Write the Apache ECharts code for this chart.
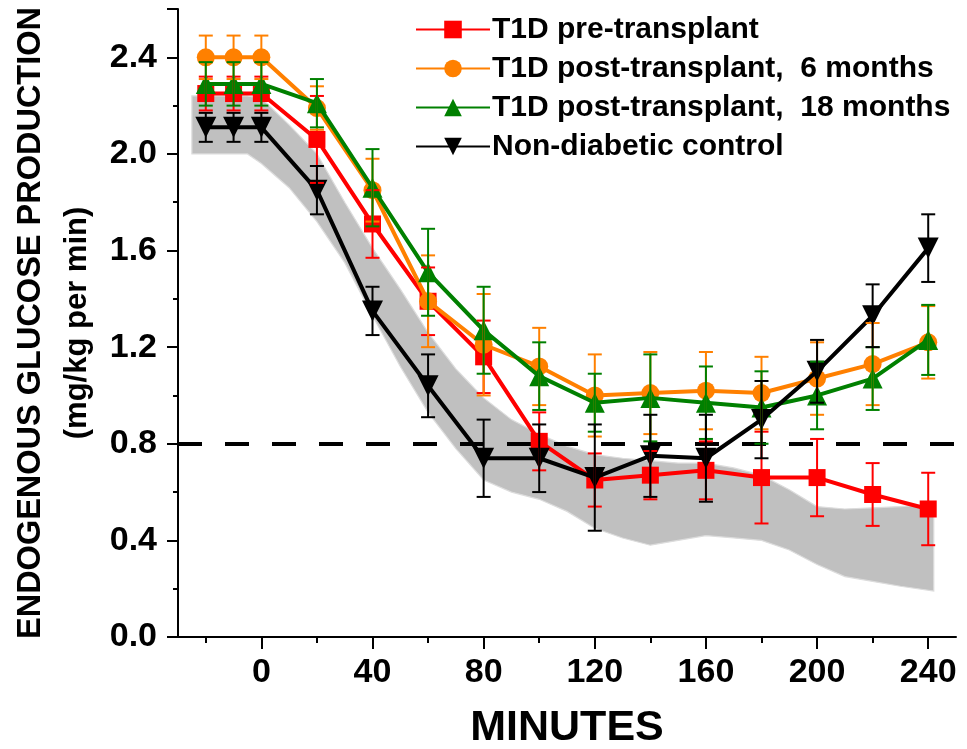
<!DOCTYPE html>
<html>
<head>
<meta charset="utf-8">
<title>Endogenous glucose production</title>
<script src="https://cdn.jsdelivr.net/npm/echarts@6/dist/echarts.min.js"></script>
<style>
  html, body { margin: 0; padding: 0; background: #ffffff; }
  #chart { width: 967px; height: 749px; }
</style>
</head>
<body>
<div id="chart"></div>
<script>
// Sampling times (minutes)
const minutes = [-20, -10, 0, 20, 40, 60, 80, 100, 120, 140, 160, 180, 200, 220, 240];

// Group means (mg/kg per min) and error-bar half widths
const preMean   = [2.25, 2.25, 2.25, 2.06, 1.71, 1.39, 1.16, 0.81, 0.65, 0.67, 0.69, 0.66, 0.66, 0.59, 0.53];
const preErr    = [0.07, 0.07, 0.07, 0.18, 0.14, 0.14, 0.15, 0.12, 0.11, 0.10, 0.12, 0.19, 0.16, 0.13, 0.15];
const post6Mean = [2.40, 2.40, 2.40, 2.19, 1.85, 1.39, 1.21, 1.12, 1.00, 1.01, 1.02, 1.01, 1.07, 1.13, 1.22];
const post6Err  = [0.09, 0.09, 0.09, 0.09, 0.13, 0.19, 0.21, 0.16, 0.17, 0.17, 0.16, 0.15, 0.15, 0.17, 0.15];
const post18Mean= [2.29, 2.29, 2.29, 2.21, 1.86, 1.51, 1.27, 1.08, 0.97, 0.99, 0.97, 0.95, 1.00, 1.07, 1.23];
const post18Err = [0.09, 0.09, 0.09, 0.10, 0.16, 0.18, 0.18, 0.14, 0.12, 0.18, 0.15, 0.15, 0.14, 0.13, 0.145];
const ctrlMean  = [2.11, 2.11, 2.11, 1.85, 1.35, 1.04, 0.74, 0.74, 0.66, 0.75, 0.74, 0.90, 1.10, 1.33, 1.61];
const ctrlErr   = [0.06, 0.06, 0.06, 0.10, 0.10, 0.13, 0.16, 0.14, 0.22, 0.17, 0.18, 0.16, 0.13, 0.13, 0.14];

// Reference range band for non-diabetic subjects
const bandX     = [-25, -5, 0, 10, 20, 30, 40, 50, 60, 70, 80, 90, 100, 110, 120, 130, 140, 150, 160, 170, 180, 190, 200, 210, 220, 230, 242];
const bandUpper = [2.24, 2.24, 2.23, 2.12, 2.00, 1.80, 1.61, 1.44, 1.26, 1.11, 0.99, 0.90, 0.84, 0.79, 0.755, 0.74, 0.73, 0.72, 0.72, 0.70, 0.67, 0.61, 0.54, 0.53, 0.535, 0.54, 0.55];
const bandLower = [2.00, 2.00, 1.96, 1.86, 1.72, 1.55, 1.33, 1.12, 0.93, 0.78, 0.65, 0.60, 0.57, 0.52, 0.45, 0.41, 0.38, 0.40, 0.42, 0.41, 0.40, 0.36, 0.30, 0.25, 0.23, 0.21, 0.19];

// Threshold line
const threshold = 0.8;

// Axis ticks
const xMajorTicks = [0, 40, 80, 120, 160, 200, 240];
const xMinorTicks = [-20, 20, 60, 100, 140, 180, 220];

const groups = [
  { name: 'T1D pre-transplant',             color: '#ff0000', symbol: 'rect',     size: 17, rotate: 0,   mean: preMean,    err: preErr },
  { name: 'T1D post-transplant,  6 months',  color: '#ff8000', symbol: 'circle',   size: 18, rotate: 0,   mean: post6Mean,  err: post6Err },
  { name: 'T1D post-transplant,  18 months', color: '#008000', symbol: 'triangle', size: 20, rotate: 0,   mean: post18Mean, err: post18Err },
  { name: 'Non-diabetic control',            color: '#000000', symbol: 'triangle', size: 21, rotate: 180, mean: ctrlMean,   err: ctrlErr }
];

const font = "'Liberation Sans', Arial, sans-serif";

const chart = echarts.init(document.getElementById('chart'), null, { renderer: 'canvas' });

const series = [];

// Grey band drawn as one polygon through the axis scales
series.push({
  type: 'custom',
  name: 'band',
  silent: true,
  z: 1,
  data: [[bandX[0], bandUpper[0]]],
  encode: { x: 0, y: 1 },
  renderItem: function (params, api) {
    const pts = [];
    for (let i = 0; i < bandX.length; i++) pts.push(api.coord([bandX[i], bandUpper[i]]));
    for (let i = bandX.length - 1; i >= 0; i--) pts.push(api.coord([bandX[i], bandLower[i]]));
    return {
      type: 'polygon',
      shape: { points: pts },
      style: { fill: '#c0c0c0', stroke: '#dcdcdc', lineWidth: 1.2 }
    };
  }
});

// Mean curves
groups.forEach(function (g, k) {
  series.push({
    type: 'line',
    name: g.name,
    z: 3 + k,
    data: minutes.map(function (m, i) { return [m, g.mean[i]]; }),
    symbol: g.symbol,
    symbolSize: g.size,
    symbolRotate: g.rotate,
    showAllSymbol: true,
    lineStyle: { color: g.color, width: 4 },
    itemStyle: { color: g.color },
    emphasis: { disabled: true },
    markLine: k === 0 ? {
      silent: true,
      symbol: ['none', 'none'],
      label: { show: false },
      z: 2,
      lineStyle: { color: '#000000', width: 4, type: [24, 23] },
      data: [{ yAxis: threshold }]
    } : undefined
  });
});

// Error bars on top of the markers
groups.forEach(function (g, k) {
  series.push({
    type: 'custom',
    name: g.name + ' SEM',
    silent: true,
    z: 10 + k,
    data: minutes.map(function (m, i) { return [m, g.mean[i], g.err[i]]; }),
    encode: { x: 0, y: 1 },
    renderItem: function (params, api) {
      const x = api.value(0), y = api.value(1), e = api.value(2);
      const top = api.coord([x, y + e]);
      const bot = api.coord([x, y - e]);
      const hw = 7;
      const st = { stroke: g.color, lineWidth: 2 };
      return {
        type: 'group',
        children: [
          { type: 'line', shape: { x1: top[0], y1: top[1], x2: bot[0], y2: bot[1] }, style: st },
          { type: 'line', shape: { x1: top[0] - hw, y1: top[1], x2: top[0] + hw, y2: top[1] }, style: st },
          { type: 'line', shape: { x1: bot[0] - hw, y1: bot[1], x2: bot[0] + hw, y2: bot[1] }, style: st }
        ]
      };
    }
  });
});

chart.setOption({
  animation: false,
  backgroundColor: '#ffffff',
  grid: { left: 178, right: 11, top: 9, bottom: 112, containLabel: false, outerBoundsMode: 'none' },
  legend: {
    orient: 'vertical',
    left: 410,
    top: 8,
    itemWidth: 74,
    itemHeight: 22,
    itemGap: 6,
    selectedMode: false,
    data: groups.map(function (g) { return g.name; }),
    textStyle: { fontFamily: font, fontWeight: 'bold', fontSize: 30, color: '#000000', lineHeight: 33, padding: [0, 0, 0, -3] }
  },
  xAxis: [
    {
      type: 'value',
      min: -30,
      max: 250,
      name: 'MINUTES',
      nameLocation: 'middle',
      nameGap: 70,
      nameTextStyle: { fontFamily: font, fontWeight: 'bold', fontSize: 43, color: '#000000' },
      splitLine: { show: false },
      axisLine: { show: true, onZero: false, lineStyle: { color: '#000000', width: 2 } },
      axisTick: { show: true, inside: false, length: 12, customValues: xMajorTicks, lineStyle: { color: '#000000', width: 2 } },
      axisLabel: { customValues: xMajorTicks, margin: 19, fontFamily: font, fontWeight: 'bold', fontSize: 34, color: '#000000' }
    },
    {
      type: 'value',
      min: -30,
      max: 250,
      position: 'bottom',
      splitLine: { show: false },
      axisLine: { show: false },
      axisTick: { show: true, inside: false, length: 6, customValues: xMinorTicks, lineStyle: { color: '#000000', width: 2 } },
      axisLabel: { show: false }
    }
  ],
  yAxis: {
    type: 'value',
    min: 0,
    max: 2.6,
    interval: 0.4,
    name: '{a|ENDOGENOUS GLUCOSE PRODUCTION}\n{b|(mg/kg per min)}',
    nameLocation: 'middle',
    nameRotate: 90,
    nameGap: 78,
    nameTextStyle: {
      color: '#000000',
      rich: {
        a: { fontFamily: font, fontWeight: 'bold', fontSize: 32.5, lineHeight: 46, color: '#000000' },
        b: { fontFamily: font, fontWeight: 'bold', fontSize: 31, lineHeight: 46, color: '#000000' }
      }
    },
    splitLine: { show: false },
    axisLine: { show: true, onZero: false, lineStyle: { color: '#000000', width: 2 } },
    axisTick: { show: true, inside: false, length: 11, lineStyle: { color: '#000000', width: 2 } },
    minorTick: { show: true, splitNumber: 2, length: 5, lineStyle: { color: '#000000', width: 2 } },
    axisLabel: {
      showMaxLabel: false,
      margin: 21,
      fontFamily: font,
      fontWeight: 'bold',
      fontSize: 34,
      color: '#000000',
      formatter: function (v) { return v.toFixed(1); }
    }
  },
  series: series
});
</script>
</body>
</html>
